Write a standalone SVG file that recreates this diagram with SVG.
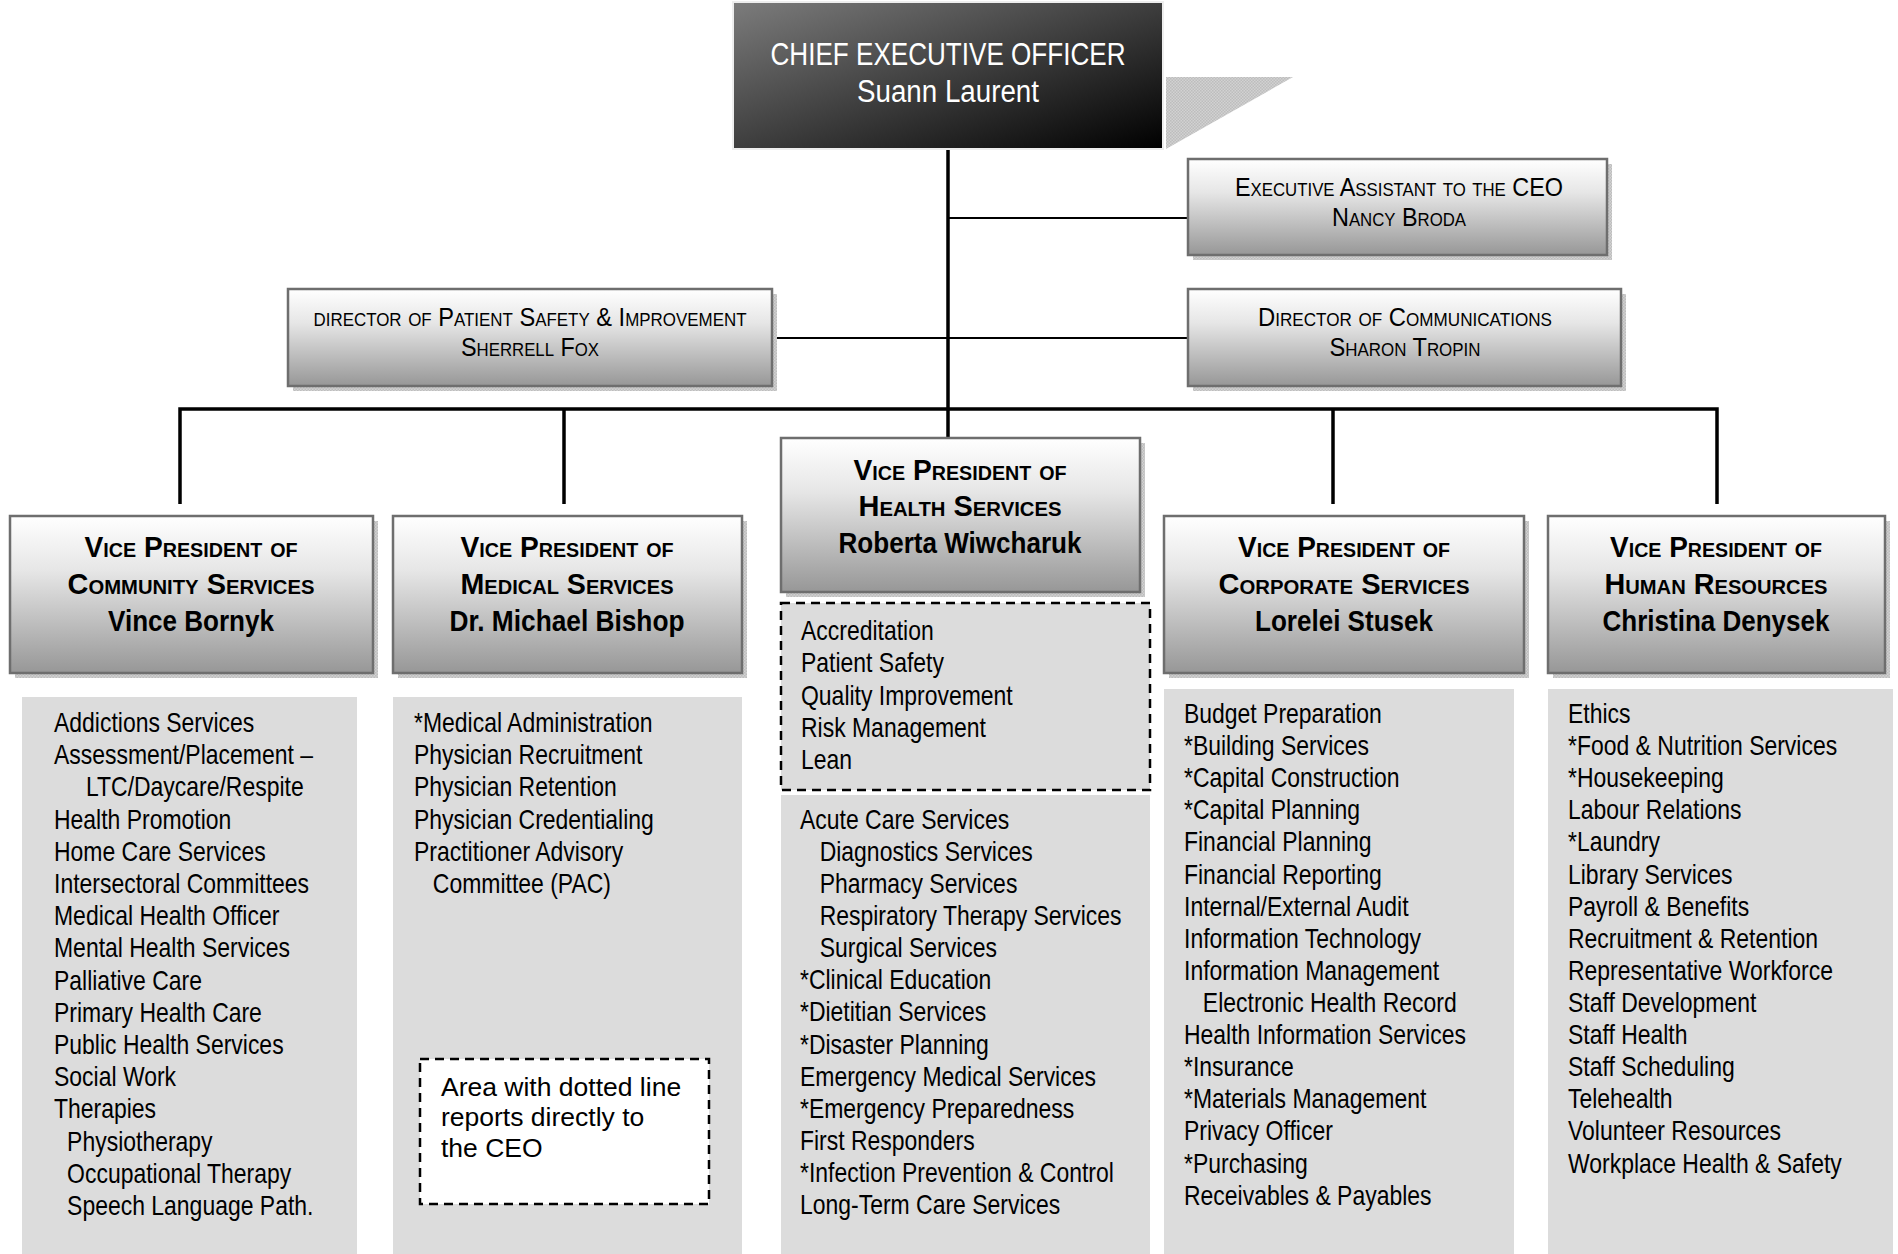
<svg xmlns="http://www.w3.org/2000/svg" width="1898" height="1254" viewBox="0 0 1898 1254">
<style>
.box{fill:url(#gbox);stroke:#6e6e6e;stroke-width:2.5}
.shadow{fill:url(#hatch)}
.panel{fill:#dcdcdc}
.dash{stroke:#000;stroke-width:2.5;stroke-dasharray:9 6}
.hd{font-family:"Liberation Sans Narrow","Arial Narrow","Liberation Sans",Arial,sans-serif;font-weight:bold;font-size:30px;fill:#000;text-anchor:middle;font-variant:small-caps}
.dr{font-family:"Liberation Sans Narrow","Arial Narrow","Liberation Sans",Arial,sans-serif;font-size:26.5px;fill:#000;text-anchor:middle;font-variant:small-caps}
.ceo{font-family:"Liberation Sans Narrow","Arial Narrow","Liberation Sans",Arial,sans-serif;font-size:31px;fill:#fff;text-anchor:middle}
.li{font-family:"Liberation Sans",Arial,sans-serif;font-size:28px;fill:#000}
.lg{font-family:"Liberation Sans",Arial,sans-serif;font-size:26.5px;fill:#000}
.thick{stroke:#000;stroke-width:3.5;fill:none}
.thin{stroke:#000;stroke-width:2;fill:none}
</style>
<defs>
<linearGradient id="gbox" x1="0" y1="0" x2="0" y2="1">
<stop offset="0" stop-color="#ffffff"/>
<stop offset="0.35" stop-color="#e6e6e6"/>
<stop offset="1" stop-color="#979797"/>
</linearGradient>
<linearGradient id="gceo" x1="0" y1="0" x2="1" y2="1">
<stop offset="0" stop-color="#7c7c7c"/>
<stop offset="1" stop-color="#000000"/>
</linearGradient>
<pattern id="hatch" width="3" height="3" patternUnits="userSpaceOnUse">
<rect width="3" height="3" fill="#d2d2d2"/>
<rect width="1.5" height="1.5" fill="#bdbdbd"/>
<rect x="1.5" y="1.5" width="1.5" height="1.5" fill="#bdbdbd"/>
</pattern>
</defs>
<rect width="1898" height="1254" fill="#ffffff"/>

<g id="connectors">
<line class="thick" x1="948" y1="149" x2="948" y2="438"/>
<line class="thin" x1="948" y1="218" x2="1188" y2="218"/>
<line class="thin" x1="772" y1="338" x2="1188" y2="338"/>
<polyline class="thick" points="180,504 180,409 1717,409 1717,504"/>
<line class="thick" x1="564" y1="409" x2="564" y2="504"/>
<line class="thick" x1="1333" y1="409" x2="1333" y2="504"/>
</g>

<g id="ceo">
<polygon points="1166,77 1293,77 1166,149" fill="url(#hatch)"/>
<rect x="733" y="2" width="430" height="147" fill="url(#gceo)" stroke="#eeeeee" stroke-width="2"/>
<text class="ceo" x="948" y="65" textLength="355" lengthAdjust="spacingAndGlyphs">CHIEF EXECUTIVE OFFICER</text>
<text class="ceo" x="948" y="102" textLength="182" lengthAdjust="spacingAndGlyphs">Suann Laurent</text>
</g>

<g id="exec-assistant">
<rect class="shadow" x="1193" y="164" width="419" height="96"/>
<rect class="box" x="1188" y="159" width="419" height="96"/>
<text class="dr" x="1399" y="196" textLength="328" lengthAdjust="spacingAndGlyphs">Executive Assistant to the CEO</text>
<text class="dr" x="1399" y="226" textLength="134" lengthAdjust="spacingAndGlyphs">Nancy Broda</text>
</g>

<g id="dir-patient-safety">
<rect class="shadow" x="293" y="294" width="484" height="97"/>
<rect class="box" x="288" y="289" width="484" height="97"/>
<text class="dr" x="530" y="326" textLength="433" lengthAdjust="spacingAndGlyphs">director of Patient Safety &amp; Improvement</text>
<text class="dr" x="530" y="356" textLength="138" lengthAdjust="spacingAndGlyphs">Sherrell Fox</text>
</g>

<g id="dir-communications">
<rect class="shadow" x="1193" y="294" width="433" height="97"/>
<rect class="box" x="1188" y="289" width="433" height="97"/>
<text class="dr" x="1405" y="326" textLength="294" lengthAdjust="spacingAndGlyphs">Director of Communications</text>
<text class="dr" x="1405" y="356" textLength="151" lengthAdjust="spacingAndGlyphs">Sharon Tropin</text>
</g>

<g id="vp-community">
<rect class="shadow" x="15" y="521" width="363" height="157"/>
<rect class="box" x="10" y="516" width="363" height="157"/>
<text class="hd" x="191" y="557" textLength="213" lengthAdjust="spacingAndGlyphs">Vice President of</text>
<text class="hd" x="191" y="594" textLength="247" lengthAdjust="spacingAndGlyphs">Community Services</text>
<text class="hd" x="191" y="631" textLength="166" lengthAdjust="spacingAndGlyphs" style="font-variant:normal">Vince Bornyk</text>
<rect class="panel" x="22" y="697" width="335" height="557"/>
<g transform="translate(54,0) scale(0.82,1)">
<text class="li" x="0" y="732">Addictions Services</text>
<text class="li" x="0" y="764">Assessment/Placement –</text>
<text class="li" x="39" y="796">LTC/Daycare/Respite</text>
<text class="li" x="0" y="829">Health Promotion</text>
<text class="li" x="0" y="861">Home Care Services</text>
<text class="li" x="0" y="893">Intersectoral Committees</text>
<text class="li" x="0" y="925">Medical Health Officer</text>
<text class="li" x="0" y="957">Mental Health Services</text>
<text class="li" x="0" y="990">Palliative Care</text>
<text class="li" x="0" y="1022">Primary Health Care</text>
<text class="li" x="0" y="1054">Public Health Services</text>
<text class="li" x="0" y="1086">Social Work</text>
<text class="li" x="0" y="1118">Therapies</text>
<text class="li" x="16" y="1151">Physiotherapy</text>
<text class="li" x="16" y="1183">Occupational Therapy</text>
<text class="li" x="16" y="1215">Speech Language Path.</text>
</g>
</g>

<g id="vp-medical">
<rect class="shadow" x="398" y="521" width="349" height="157"/>
<rect class="box" x="393" y="516" width="349" height="157"/>
<text class="hd" x="567" y="557" textLength="213" lengthAdjust="spacingAndGlyphs">Vice President of</text>
<text class="hd" x="567" y="594" textLength="213" lengthAdjust="spacingAndGlyphs">Medical Services</text>
<text class="hd" x="567" y="631" textLength="235" lengthAdjust="spacingAndGlyphs" style="font-variant:normal">Dr. Michael Bishop</text>
<rect class="panel" x="393" y="697" width="349" height="557"/>
<g transform="translate(414,0) scale(0.82,1)">
<text class="li" x="0" y="732">*Medical Administration</text>
<text class="li" x="0" y="764">Physician Recruitment</text>
<text class="li" x="0" y="796">Physician Retention</text>
<text class="li" x="0" y="829">Physician Credentialing</text>
<text class="li" x="0" y="861">Practitioner Advisory</text>
<text class="li" x="23" y="893">Committee (PAC)</text>
</g>
</g>

<g id="legend">
<rect x="420" y="1059" width="289" height="145" fill="#ffffff" class="dash"/>
<text class="lg" x="441" y="1096">Area with dotted line</text>
<text class="lg" x="441" y="1126">reports directly to</text>
<text class="lg" x="441" y="1157">the CEO</text>
</g>

<g id="vp-health">
<rect class="shadow" x="786" y="443" width="359" height="154"/>
<rect class="box" x="781" y="438" width="359" height="154"/>
<text class="hd" x="960" y="480" textLength="213" lengthAdjust="spacingAndGlyphs">Vice President of</text>
<text class="hd" x="960" y="516" textLength="203" lengthAdjust="spacingAndGlyphs">Health Services</text>
<text class="hd" x="960" y="553" textLength="243" lengthAdjust="spacingAndGlyphs" style="font-variant:normal">Roberta Wiwcharuk</text>
<rect class="panel dash" x="781" y="603" width="369" height="187"/>
<g transform="translate(801,0) scale(0.82,1)">
<text class="li" x="0" y="640">Accreditation</text>
<text class="li" x="0" y="672">Patient Safety</text>
<text class="li" x="0" y="705">Quality Improvement</text>
<text class="li" x="0" y="737">Risk Management</text>
<text class="li" x="0" y="769">Lean</text>
</g>
<rect class="panel" x="781" y="795" width="369" height="459"/>
<g transform="translate(800,0) scale(0.82,1)">
<text class="li" x="0" y="829">Acute Care Services</text>
<text class="li" x="24" y="861">Diagnostics Services</text>
<text class="li" x="24" y="893">Pharmacy Services</text>
<text class="li" x="24" y="925">Respiratory Therapy Services</text>
<text class="li" x="24" y="957">Surgical Services</text>
<text class="li" x="0" y="989">*Clinical Education</text>
<text class="li" x="0" y="1021">*Dietitian Services</text>
<text class="li" x="0" y="1054">*Disaster Planning</text>
<text class="li" x="0" y="1086">Emergency Medical Services</text>
<text class="li" x="0" y="1118">*Emergency Preparedness</text>
<text class="li" x="0" y="1150">First Responders</text>
<text class="li" x="0" y="1182">*Infection Prevention &amp; Control</text>
<text class="li" x="0" y="1214">Long-Term Care Services</text>
</g>
</g>

<g id="vp-corporate">
<rect class="shadow" x="1169" y="521" width="360" height="157"/>
<rect class="box" x="1164" y="516" width="360" height="157"/>
<text class="hd" x="1344" y="557" textLength="212" lengthAdjust="spacingAndGlyphs">Vice President of</text>
<text class="hd" x="1344" y="594" textLength="251" lengthAdjust="spacingAndGlyphs">Corporate Services</text>
<text class="hd" x="1344" y="631" textLength="178" lengthAdjust="spacingAndGlyphs" style="font-variant:normal">Lorelei Stusek</text>
<rect class="panel" x="1164" y="689" width="350" height="565"/>
<g transform="translate(1184,0) scale(0.82,1)">
<text class="li" x="0" y="723">Budget Preparation</text>
<text class="li" x="0" y="755">*Building Services</text>
<text class="li" x="0" y="787">*Capital Construction</text>
<text class="li" x="0" y="819">*Capital Planning</text>
<text class="li" x="0" y="851">Financial Planning</text>
<text class="li" x="0" y="884">Financial Reporting</text>
<text class="li" x="0" y="916">Internal/External Audit</text>
<text class="li" x="0" y="948">Information Technology</text>
<text class="li" x="0" y="980">Information Management</text>
<text class="li" x="23" y="1012">Electronic Health Record</text>
<text class="li" x="0" y="1044">Health Information Services</text>
<text class="li" x="0" y="1076">*Insurance</text>
<text class="li" x="0" y="1108">*Materials Management</text>
<text class="li" x="0" y="1140">Privacy Officer</text>
<text class="li" x="0" y="1173">*Purchasing</text>
<text class="li" x="0" y="1205">Receivables &amp; Payables</text>
</g>
</g>

<g id="vp-hr">
<rect class="shadow" x="1553" y="521" width="337" height="157"/>
<rect class="box" x="1548" y="516" width="337" height="157"/>
<text class="hd" x="1716" y="557" textLength="212" lengthAdjust="spacingAndGlyphs">Vice President of</text>
<text class="hd" x="1716" y="594" textLength="223" lengthAdjust="spacingAndGlyphs">Human Resources</text>
<text class="hd" x="1716" y="631" textLength="227" lengthAdjust="spacingAndGlyphs" style="font-variant:normal">Christina Denysek</text>
<rect class="panel" x="1548" y="689" width="345" height="565"/>
<g transform="translate(1568,0) scale(0.82,1)">
<text class="li" x="0" y="723">Ethics</text>
<text class="li" x="0" y="755">*Food &amp; Nutrition Services</text>
<text class="li" x="0" y="787">*Housekeeping</text>
<text class="li" x="0" y="819">Labour Relations</text>
<text class="li" x="0" y="851">*Laundry</text>
<text class="li" x="0" y="884">Library Services</text>
<text class="li" x="0" y="916">Payroll &amp; Benefits</text>
<text class="li" x="0" y="948">Recruitment &amp; Retention</text>
<text class="li" x="0" y="980">Representative Workforce</text>
<text class="li" x="0" y="1012">Staff Development</text>
<text class="li" x="0" y="1044">Staff Health</text>
<text class="li" x="0" y="1076">Staff Scheduling</text>
<text class="li" x="0" y="1108">Telehealth</text>
<text class="li" x="0" y="1140">Volunteer Resources</text>
<text class="li" x="0" y="1173">Workplace Health &amp; Safety</text>
</g>
</g>
</svg>
